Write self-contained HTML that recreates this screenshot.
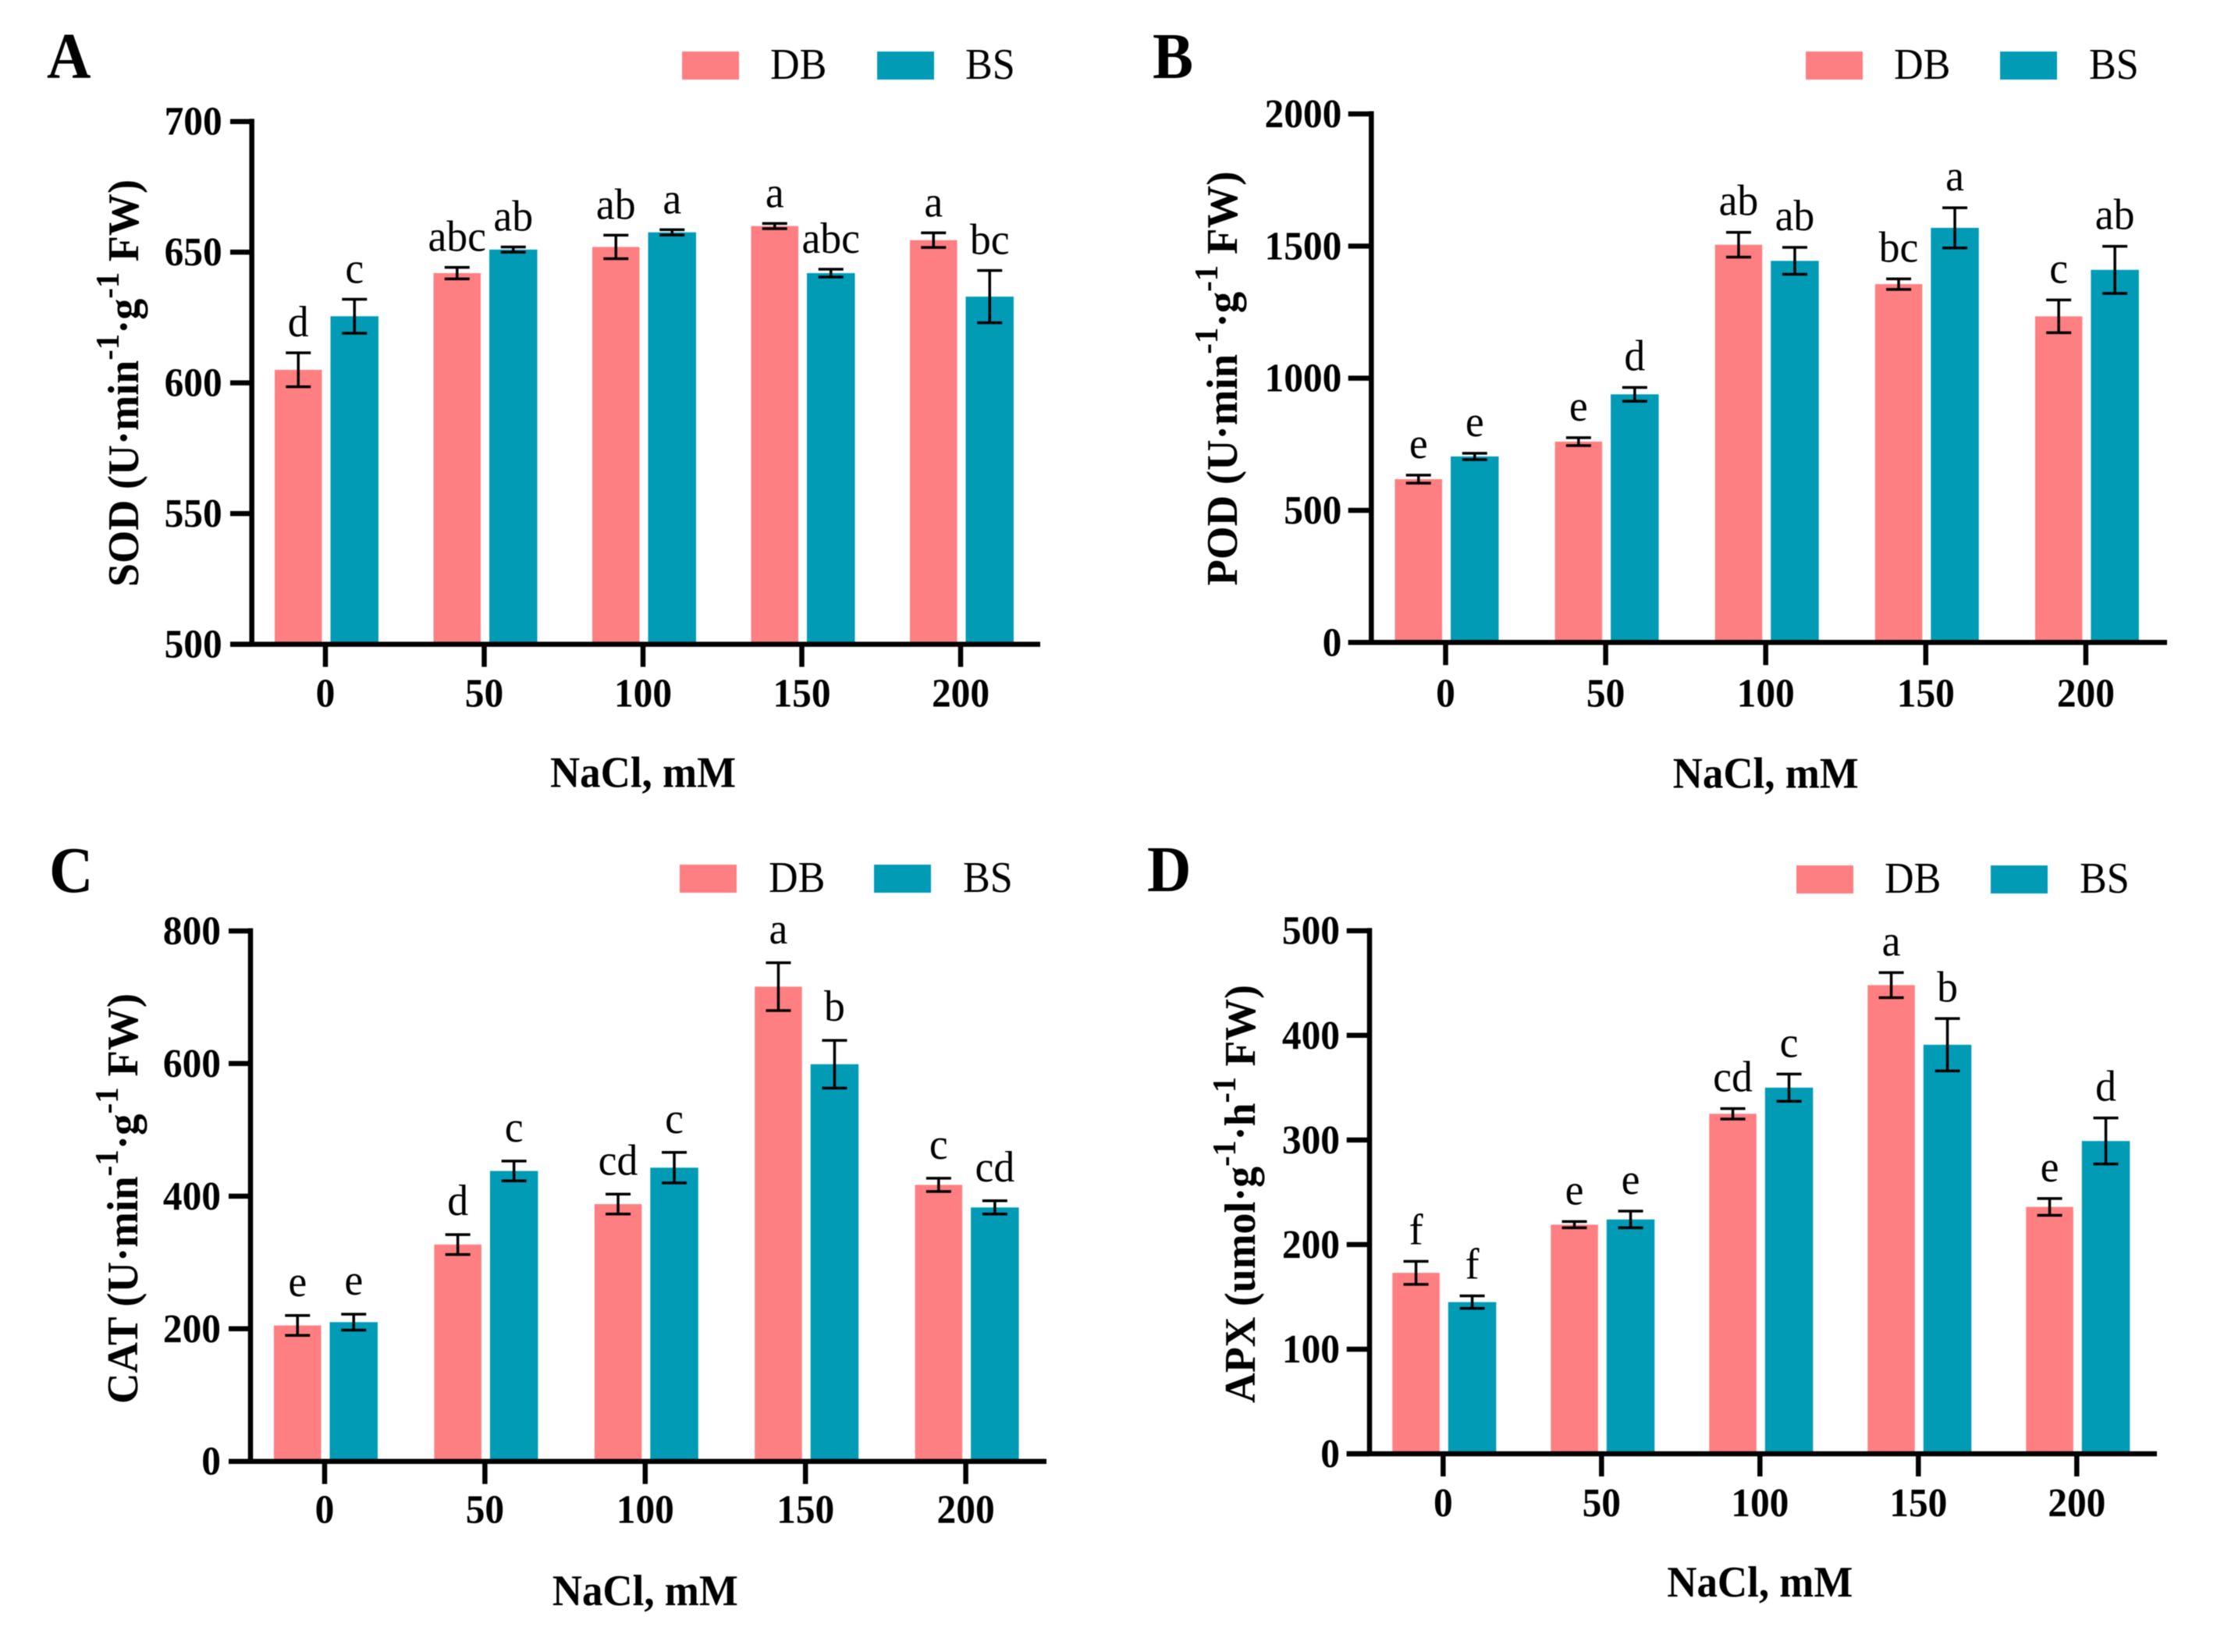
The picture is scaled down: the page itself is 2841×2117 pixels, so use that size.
<!DOCTYPE html>
<html lang="en">
<head>
<meta charset="utf-8">
<title>Antioxidant enzyme activity under NaCl</title>
<style>
  html, body { margin: 0; padding: 0; background: #fff; }
  svg { display: block; filter: blur(0.6px); }
  text { font-family: "Liberation Serif", serif; fill: #000; }
</style>
</head>
<body>
<svg id="figure" xmlns="http://www.w3.org/2000/svg" width="2841" height="2117" viewBox="0 0 2841 2117"></svg>
<script>
const categories = ['0', '50', '100', '150', '200'];

const sodTicks = [500, 550, 600, 650, 700];
const sodDb = [605, 642, 652, 660, 654.6];
const sodBs = [625.5, 651, 657.6, 642, 633];
const sodDbErr = [6.5, 2.2, 4.5, 1, 2.8];
const sodBsErr = [6.5, 1, 1, 1.5, 10];
const sodDbLetters = ['d', 'abc', 'ab', 'a', 'a'];
const sodBsLetters = ['c', 'ab', 'a', 'abc', 'bc'];

const podTicks = [0, 500, 1000, 1500, 2000];
const podDb = [618, 760, 1505, 1356, 1234];
const podBs = [704, 939, 1444, 1569, 1410];
const podDbErr = [15, 15, 47, 20, 62];
const podBsErr = [12, 26, 51, 76, 89];
const podDbLetters = ['e', 'e', 'ab', 'bc', 'c'];
const podBsLetters = ['e', 'd', 'ab', 'a', 'ab'];

const catTicks = [0, 200, 400, 600, 800];
const catDb = [205, 327, 388, 716, 417];
const catBs = [210, 438, 443, 599, 383];
const catDbErr = [15, 15, 15, 36, 10];
const catBsErr = [12, 15, 23, 36, 10];
const catDbLetters = ['e', 'd', 'cd', 'a', 'c'];
const catBsLetters = ['e', 'c', 'c', 'b', 'cd'];

const apxTicks = [0, 100, 200, 300, 400, 500];
const apxDb = [173, 219, 325, 448, 236];
const apxBs = [145, 224, 350, 391, 299];
const apxDbErr = [11, 3, 5, 12, 8];
const apxBsErr = [6, 8, 13, 25, 22];
const apxDbLetters = ['f', 'e', 'cd', 'a', 'e'];
const apxBsLetters = ['f', 'e', 'c', 'b', 'd'];

const seriesNames = ['DB', 'BS'];
const seriesColors = ['#FE7F81', '#019BB6'];

const panels = [
  { id: 'sod', letter: 'A', letterX: 60, letterY: 100, ticks: sodTicks, db: sodDb, bs: sodBs, dbErr: sodDbErr, bsErr: sodBsErr, dbLetters: sodDbLetters, bsLetters: sodBsLetters,
    title: ['SOD (U·min', '·g', ' FW)'], sups: ['-1', '-1'], axisX: 322.7, firstTick: 417, tickGap: 203.5, xStart: 295, xEnd: 1333, yTop: 155.7, yBase: 825.6, tickLabelOff: 80, xTitleOff: 183, sigGap: 21,
    titleX: 177, titleY: 491, titleLen: 522, legendY: 66, swatch: [874, 1124], legendText: [987, 1237] },
  { id: 'pod', letter: 'B', letterX: 1477, letterY: 100, ticks: podTicks, db: podDb, bs: podBs, dbErr: podDbErr, bsErr: podBsErr, dbLetters: podDbLetters, bsLetters: podBsLetters,
    title: ['POD (U·min', '·g', ' FW)'], sups: ['-1', '-1'], axisX: 1757.3, firstTick: 1852.5, tickGap: 205.1, xStart: 1727.7, xEnd: 2777, yTop: 146, yBase: 823.3, tickLabelOff: 82, xTitleOff: 186, sigGap: 22,
    titleX: 1585, titleY: 485, titleLen: 531, legendY: 66, swatch: [2314, 2563], legendText: [2427, 2677] },
  { id: 'cat', letter: 'C', letterX: 63, letterY: 1143, ticks: catTicks, db: catDb, bs: catBs, dbErr: catDbErr, bsErr: catBsErr, dbLetters: catDbLetters, bsLetters: catBsLetters,
    title: ['CAT (U·min', '·g', ' FW)'], sups: ['-1', '-1'], axisX: 321, firstTick: 416, tickGap: 205.4, xStart: 293, xEnd: 1341, yTop: 1193, yBase: 1872.7, tickLabelOff: 79, xTitleOff: 184.5, sigGap: 25,
    titleX: 176, titleY: 1536, titleLen: 526, legendY: 1108, swatch: [871, 1120], legendText: [985, 1234] },
  { id: 'apx', letter: 'D', letterX: 1470, letterY: 1142, ticks: apxTicks, db: apxDb, bs: apxBs, dbErr: apxDbErr, bsErr: apxBsErr, dbLetters: apxDbLetters, bsLetters: apxBsLetters,
    title: ['APX (umol·g', '·h', ' FW)'], sups: ['-1', '-1'], axisX: 1755, firstTick: 1849.3, tickGap: 203, xStart: 1725.7, xEnd: 2764, yTop: 1192.7, yBase: 1863, tickLabelOff: 80, xTitleOff: 183, sigGap: 22,
    titleX: 1608, titleY: 1530, titleLen: 536, legendY: 1109, swatch: [2302, 2551], legendText: [2415, 2665] }
];

const NS = 'http://www.w3.org/2000/svg';
const root = document.getElementById('figure');

function mk(parent, tag, attrs, txt) {
  const el = document.createElementNS(NS, tag);
  for (const k in attrs) el.setAttribute(k, attrs[k]);
  if (txt !== undefined) el.textContent = txt;
  parent.appendChild(el);
  return el;
}

// The source figure's type is slightly narrow; squeeze glyphs horizontally.
function condense(el, factor) {
  el.setAttribute('textLength', el.getComputedTextLength() * factor);
  el.setAttribute('lengthAdjust', 'spacingAndGlyphs');
}

function drawPanel(p) {
  const g = mk(root, 'g', {});
  
  

  const lo = p.ticks[0];
  const hi = p.ticks[p.ticks.length - 1];
  const yScale = v => p.yBase - (v - lo) / (hi - lo) * (p.yBase - p.yTop);
  const xScale = i => p.firstTick + i * p.tickGap;

  const tag = mk(g, 'text', { x: p.letterX, y: p.letterY, 'font-size': 84, 'font-weight': 'bold' }, p.letter);
  
  
  condense(tag, 0.93);

  // legend
  seriesNames.forEach((name, s) => {
    const sw = mk(g, 'rect', { x: p.swatch[s], y: p.legendY, width: 73, height: 36, fill: seriesColors[s] });
    
    
    const lt = mk(g, 'text', { x: p.legendText[s], y: p.legendY + 35, 'font-size': 56 }, name);
    
    
    condense(lt, 0.93);
  });

  // bars, error bars, significance letters
  const groups = [
    { key: 'DB', vals: p.db, errs: p.dbErr, labels: p.dbLetters, left: -65, width: 60.5, color: seriesColors[0] },
    { key: 'BS', vals: p.bs, errs: p.bsErr, labels: p.bsLetters, left: 6.5, width: 61.5, color: seriesColors[1] }
  ];
  groups.forEach(sr => {
    sr.vals.forEach((v, i) => {
      const bx = xScale(i) + sr.left;
      const top = yScale(v);
      const bar = mk(g, 'rect', { x: bx, y: top, width: sr.width, height: p.yBase - top, fill: sr.color });
      
      

      const cx = bx + sr.width / 2;
      const eTop = yScale(v + sr.errs[i]);
      const eBot = yScale(v - sr.errs[i]);
      const err = mk(g, 'path', {
        d: 'M' + (cx - 16) + ' ' + eTop + 'H' + (cx + 16) + 'M' + cx + ' ' + eTop + 'V' + eBot + 'M' + (cx - 16) + ' ' + eBot + 'H' + (cx + 16),
        fill: 'none', stroke: '#000', 'stroke-width': 3.5
      });
      
      

      const sig = mk(g, 'text', { x: cx, y: eTop - p.sigGap, 'font-size': 56, 'text-anchor': 'middle' }, sr.labels[i]);
      
      
      condense(sig, 0.96);
    });
  });

  // axes
  const yAxis = mk(g, 'line', { x1: p.axisX, x2: p.axisX, y1: p.yTop - 3.5, y2: p.yBase, stroke: '#000', 'stroke-width': 6.5 });
  
  
  const xAxis = mk(g, 'line', { x1: p.xStart, x2: p.xEnd, y1: p.yBase, y2: p.yBase, stroke: '#000', 'stroke-width': 6.5 });
  
  

  p.ticks.forEach(t => {
    const ty = yScale(t);
    const tk = mk(g, 'line', { x1: p.xStart, x2: p.axisX, y1: ty, y2: ty, stroke: '#000', 'stroke-width': 6.5 });
    
    
    const tl = mk(g, 'text', { x: p.axisX - 38, y: ty + 17, 'font-size': 52, 'font-weight': 'bold', 'text-anchor': 'end' }, String(t));
    
    
    condense(tl, 0.95);
  });

  categories.forEach((c, i) => {
    const tx = xScale(i);
    const tk = mk(g, 'line', { x1: tx, x2: tx, y1: p.yBase, y2: p.yBase + 29, stroke: '#000', 'stroke-width': 6.5 });
    
    
    const tl = mk(g, 'text', { x: tx, y: p.yBase + p.tickLabelOff, 'font-size': 52, 'font-weight': 'bold', 'text-anchor': 'middle' }, c);
    
    
    condense(tl, 0.95);
  });

  const xTitle = mk(g, 'text', { x: xScale(2), y: p.yBase + p.xTitleOff, 'font-size': 56, 'font-weight': 'bold', 'text-anchor': 'middle' }, 'NaCl, mM');
  
  
  condense(xTitle, 0.945);

  const yTitle = mk(g, 'text', {
    transform: 'translate(' + p.titleX + ' ' + p.titleY + ') rotate(-90)',
    'font-size': 56, 'font-weight': 'bold', 'text-anchor': 'middle',
    textLength: p.titleLen, lengthAdjust: 'spacingAndGlyphs'
  });
  
  
  mk(yTitle, 'tspan', {}, p.title[0]);
  mk(yTitle, 'tspan', { dy: -25, 'font-size': 42 }, p.sups[0]);
  mk(yTitle, 'tspan', { dy: 25 }, p.title[1]);
  mk(yTitle, 'tspan', { dy: -25, 'font-size': 42 }, p.sups[1]);
  mk(yTitle, 'tspan', { dy: 25 }, p.title[2]);
}

panels.forEach(drawPanel);
</script>
</body>
</html>
